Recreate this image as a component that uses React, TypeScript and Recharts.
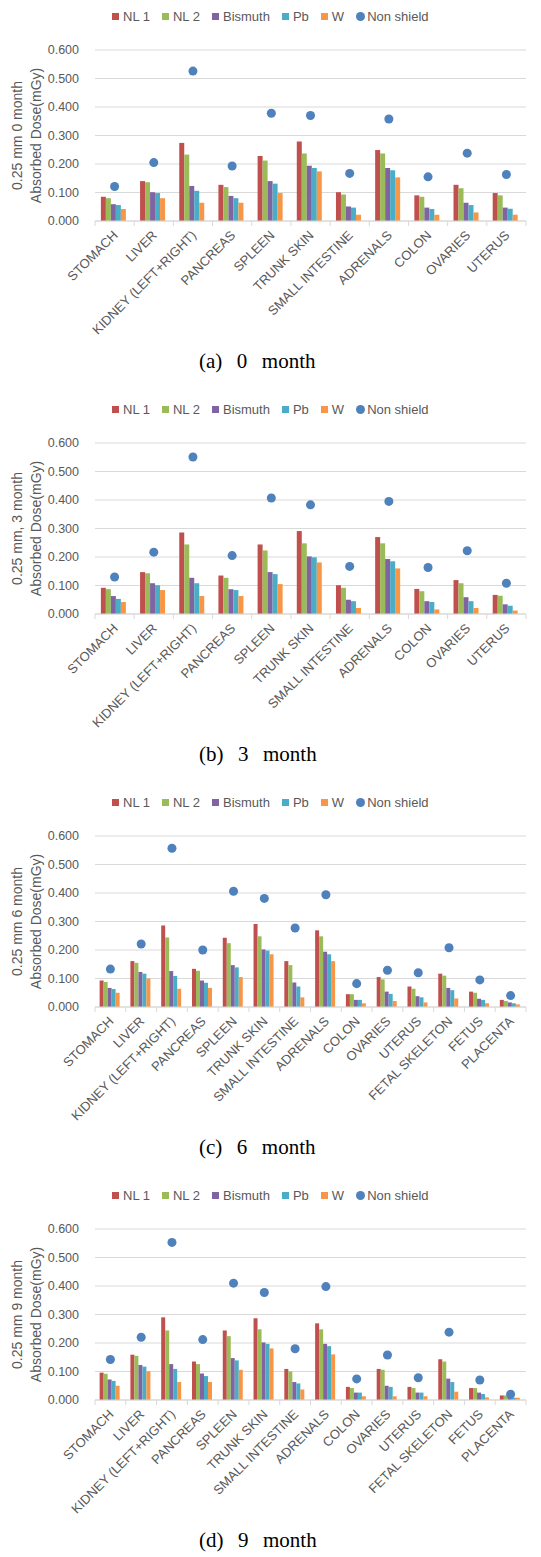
import {
  Bar,
  CartesianGrid,
  ComposedChart,
  Label,
  Legend,
  Scatter,
  XAxis,
  YAxis,
} from 'recharts'

// organ categories
const organs11 = [
  'STOMACH', 'LIVER', 'KIDNEY (LEFT+RIGHT)', 'PANCREAS', 'SPLEEN', 'TRUNK SKIN',
  'SMALL INTESTINE', 'ADRENALS', 'COLON', 'OVARIES', 'UTERUS',
]
const organs14 = [...organs11, 'FETAL SKELETON', 'FETUS', 'PLACENTA']

const yTicks = [0, 0.1, 0.2, 0.3, 0.4, 0.5, 0.6]

// (a) 0 month
const m0NL1 = [0.085, 0.140, 0.274, 0.127, 0.228, 0.279, 0.101, 0.249, 0.090, 0.127, 0.098]
const m0NL2 = [0.080, 0.136, 0.233, 0.119, 0.212, 0.237, 0.093, 0.237, 0.085, 0.115, 0.090]
const m0Bi = [0.059, 0.101, 0.123, 0.088, 0.140, 0.194, 0.051, 0.186, 0.047, 0.064, 0.047]
const m0Pb = [0.056, 0.098, 0.106, 0.080, 0.131, 0.186, 0.047, 0.178, 0.042, 0.056, 0.043]
const m0W = [0.042, 0.080, 0.064, 0.064, 0.098, 0.174, 0.022, 0.153, 0.022, 0.030, 0.022]
const m0Non = [0.121, 0.205, 0.526, 0.193, 0.378, 0.370, 0.167, 0.358, 0.155, 0.238, 0.163]

// (b) 3 month
const m3NL1 = [0.092, 0.147, 0.286, 0.135, 0.244, 0.291, 0.101, 0.270, 0.088, 0.119, 0.067]
const m3NL2 = [0.087, 0.143, 0.244, 0.127, 0.223, 0.248, 0.092, 0.248, 0.080, 0.108, 0.064]
const m3Bi = [0.063, 0.108, 0.127, 0.087, 0.147, 0.202, 0.050, 0.193, 0.045, 0.059, 0.034]
const m3Pb = [0.053, 0.101, 0.108, 0.084, 0.140, 0.199, 0.045, 0.185, 0.042, 0.045, 0.029]
const m3W = [0.042, 0.084, 0.063, 0.063, 0.105, 0.181, 0.021, 0.160, 0.016, 0.021, 0.012]
const m3Non = [0.130, 0.217, 0.551, 0.205, 0.407, 0.383, 0.167, 0.395, 0.163, 0.222, 0.108]

// (c) 6 month
const m6NL1 = [0.093, 0.161, 0.286, 0.134, 0.243, 0.291, 0.161, 0.269, 0.045, 0.105, 0.072, 0.117, 0.054, 0.025]
const m6NL2 = [0.088, 0.155, 0.244, 0.127, 0.224, 0.248, 0.147, 0.248, 0.045, 0.097, 0.064, 0.110, 0.050, 0.021]
const m6Bi = [0.067, 0.123, 0.126, 0.093, 0.147, 0.202, 0.086, 0.194, 0.025, 0.054, 0.038, 0.067, 0.029, 0.016]
const m6Pb = [0.063, 0.117, 0.109, 0.085, 0.139, 0.198, 0.072, 0.185, 0.025, 0.046, 0.034, 0.059, 0.025, 0.013]
const m6W = [0.050, 0.100, 0.064, 0.067, 0.105, 0.185, 0.034, 0.161, 0.013, 0.021, 0.016, 0.030, 0.013, 0.009]
const m6Non = [0.133, 0.221, 0.557, 0.200, 0.406, 0.381, 0.277, 0.394, 0.082, 0.129, 0.120, 0.208, 0.095, 0.040]

// (d) 9 month
const m9NL1 = [0.096, 0.159, 0.290, 0.135, 0.244, 0.287, 0.109, 0.269, 0.046, 0.109, 0.046, 0.143, 0.042, 0.016]
const m9NL2 = [0.092, 0.155, 0.244, 0.126, 0.224, 0.248, 0.100, 0.248, 0.042, 0.106, 0.042, 0.135, 0.042, 0.016]
const m9Bi = [0.072, 0.123, 0.126, 0.093, 0.147, 0.202, 0.063, 0.197, 0.026, 0.050, 0.026, 0.075, 0.026, 0.010]
const m9Pb = [0.067, 0.117, 0.109, 0.084, 0.139, 0.197, 0.058, 0.189, 0.026, 0.046, 0.026, 0.063, 0.021, 0.008]
const m9W = [0.050, 0.101, 0.063, 0.063, 0.106, 0.181, 0.037, 0.160, 0.013, 0.013, 0.013, 0.029, 0.009, 0.008]
const m9Non = [0.142, 0.220, 0.553, 0.212, 0.410, 0.377, 0.180, 0.398, 0.074, 0.158, 0.078, 0.238, 0.070, 0.020]

const FONT = '"Liberation Sans", Arial, sans-serif'
const TEXT = '#595959'
const GRID = '#d9d9d9'
const PLOT_LEFT = 95
const PLOT_RIGHT = 526

const series = [
  { key: 'nl1', name: 'NL 1', color: '#C0504D' },
  { key: 'nl2', name: 'NL 2', color: '#9BBB59' },
  { key: 'bi', name: 'Bismuth', color: '#8064A2' },
  { key: 'pb', name: 'Pb', color: '#4BACC6' },
  { key: 'w', name: 'W', color: '#F79646' },
]
const nonColor = '#4F81BD'

type PanelDef = {
  caption: string
  yTitle: string
  organs: string[]
  values: number[][]
}

const panels: PanelDef[] = [
  { caption: '(a)  0  month', yTitle: '0.25 mm 0 month', organs: organs11, values: [m0NL1, m0NL2, m0Bi, m0Pb, m0W, m0Non] },
  { caption: '(b)  3  month', yTitle: '0.25 mm, 3 month', organs: organs11, values: [m3NL1, m3NL2, m3Bi, m3Pb, m3W, m3Non] },
  { caption: '(c)  6  month', yTitle: '0.25 mm 6 month', organs: organs14, values: [m6NL1, m6NL2, m6Bi, m6Pb, m6W, m6Non] },
  { caption: '(d)  9  month', yTitle: '0.25 mm 9 month', organs: organs14, values: [m9NL1, m9NL2, m9Bi, m9Pb, m9W, m9Non] },
]

function OrganTick(props: any) {
  const { x, y, payload, index, bw, n } = props
  const left = x - bw / 2
  const tx = x + 4
  const ty = y + 15
  return (
    <g>
      <line x1={left} x2={left} y1={y} y2={y + 5} stroke={GRID} />
      {index === n - 1 && (
        <line x1={x + bw / 2} x2={x + bw / 2} y1={y} y2={y + 5} stroke={GRID} />
      )}
      <text
        x={tx}
        y={ty}
        transform={`rotate(-45, ${tx}, ${ty})`}
        textAnchor='end'
        fontSize={13}
        fontFamily={FONT}
        fill={TEXT}
      >
        {payload.value}
      </text>
    </g>
  )
}

function LegendRow() {
  return (
    <div
      style={{
        display: 'flex',
        alignItems: 'center',
        fontFamily: FONT,
        fontSize: 13,
        color: TEXT,
        whiteSpace: 'nowrap',
      }}
    >
      {series.map((s) => (
        <span key={s.key} style={{ display: 'flex', alignItems: 'center', marginRight: 12 }}>
          <span style={{ width: 7, height: 7, background: s.color, marginRight: 4 }} />
          {s.name}
        </span>
      ))}
      <span style={{ display: 'flex', alignItems: 'center' }}>
        <span style={{ width: 9, height: 9, borderRadius: '50%', background: nonColor, marginRight: 2 }} />
        Non shield
      </span>
    </div>
  )
}

function Panel({ def }: { def: PanelDef }) {
  const data = def.organs.map((name, i) => ({
    name,
    nl1: def.values[0][i],
    nl2: def.values[1][i],
    bi: def.values[2][i],
    pb: def.values[3][i],
    w: def.values[4][i],
    non: def.values[5][i],
  }))
  const n = def.organs.length
  const bw = (PLOT_RIGHT - PLOT_LEFT) / n

  const yTitle = (p: any) => {
    const cy = p.viewBox.y + p.viewBox.height / 2
    return (
      <g fontFamily={FONT} fontSize={14} fill={TEXT}>
        <text x={17} y={cy} transform={`rotate(-90, 17, ${cy})`} textAnchor='middle' dominantBaseline='central'>
          {def.yTitle}
        </text>
        <text x={36} y={cy} transform={`rotate(-90, 36, ${cy})`} textAnchor='middle' dominantBaseline='central'>
          Absorbed Dose(mGy)
        </text>
      </g>
    )
  }

  return (
    <div style={{ position: 'relative', width: 541, height: 393 }}>
      <ComposedChart
        width={541}
        height={340}
        data={data}
        margin={{ top: 50, right: 541 - PLOT_RIGHT, left: 0, bottom: 0 }}
        barCategoryGap='15%'
        barGap={0}
      >
        <CartesianGrid stroke={GRID} vertical={false} />
        <XAxis
          dataKey='name'
          interval={0}
          height={119}
          tickSize={0}
          tickMargin={0}
          axisLine={{ stroke: GRID }}
          tickLine={false}
          tick={(p: any) => <OrganTick {...p} bw={bw} n={n} />}
        />
        <YAxis
          width={PLOT_LEFT}
          domain={[0, 0.6]}
          ticks={yTicks}
          tickFormatter={(v: number) => v.toFixed(3)}
          axisLine={false}
          tickLine={false}
          tickSize={0}
          tickMargin={16}
          tick={{ fill: TEXT, fontSize: 12.5, fontFamily: FONT }}
        >
          <Label content={yTitle} />
        </YAxis>
        <Legend
          layout='horizontal'
          verticalAlign='middle'
          align='center'
          wrapperStyle={{ top: 9, left: 112, width: 'auto' }}
          content={() => <LegendRow />}
        />
        {series.map((s) => (
          <Bar key={s.key} dataKey={s.key} name={s.name} fill={s.color} isAnimationActive={false} />
        ))}
        <Scatter dataKey='non' name='Non shield' fill={nonColor} isAnimationActive={false} />
      </ComposedChart>
      <div
        style={{
          position: 'absolute',
          top: 349,
          left: 199,
          fontFamily: '"Liberation Serif", "Times New Roman", serif',
          fontSize: 21,
          lineHeight: '25px',
          whiteSpace: 'pre',
          wordSpacing: 2,
          color: '#000',
        }}
      >
        {def.caption}
      </div>
    </div>
  )
}

export default function App() {
  return (
    <div style={{ position: 'absolute', left: 0, top: 0, width: 541, height: 1557, background: '#fff' }}>
      {panels.map((p) => (
        <Panel key={p.caption} def={p} />
      ))}
    </div>
  )
}
